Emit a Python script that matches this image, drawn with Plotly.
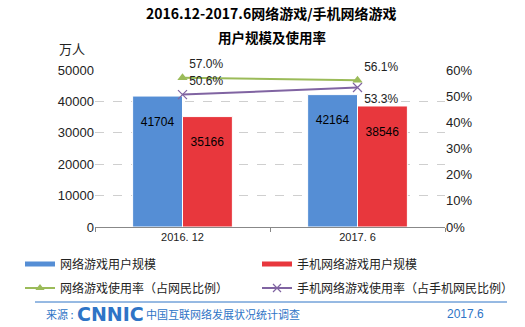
import plotly.graph_objects as go

categories = ["2016. 12", "2017. 6"]
pc_users = [41704, 42164]
mobile_users = [35166, 38546]
pc_rate = [57.0, 56.1]
mobile_rate = [50.6, 53.3]
y_ticks = [0, 10000, 20000, 30000, 40000, 50000]
y2_ticks = [0, 10, 20, 30, 40, 50, 60]

FONT = "Liberation Sans, Arial, Noto Sans CJK SC, sans-serif"
CJK = "Noto Sans CJK SC, Liberation Sans, sans-serif"
BLUE_BAR = "#558ED5"
RED_BAR = "#E8373D"
GREEN = "#9BBB59"
PURPLE = "#8064A2"

fig = go.Figure()
fig.add_trace(go.Bar(
    x=categories, y=pc_users, name="网络游戏用户规模", showlegend=False,
    marker=dict(color=BLUE_BAR, line=dict(color="white", width=1)),
    text=[str(v) for v in pc_users], texttemplate="&nbsp;<br>%{text}", textposition="inside",
    insidetextanchor="end", textangle=0,
    textfont=dict(color="black", size=12, family=FONT),
))
fig.add_trace(go.Bar(
    x=categories, y=mobile_users, name="手机网络游戏用户规模", showlegend=False,
    marker=dict(color=RED_BAR, line=dict(color="white", width=1)),
    text=[str(v) for v in mobile_users], texttemplate="&nbsp;<br>%{text}", textposition="inside",
    insidetextanchor="end", textangle=0,
    textfont=dict(color="black", size=12, family=FONT),
))
fig.add_trace(go.Scatter(
    x=categories, y=pc_rate, name="网络游戏使用率（占网民比例）", showlegend=False,
    yaxis="y2", mode="lines+markers+text", cliponaxis=False,
    line=dict(color=GREEN, width=2),
    marker=dict(symbol="triangle-up", size=9, color=GREEN),
    text=[f"{v:.1f}%" for v in pc_rate], textposition="top right",
    textfont=dict(color="#222", size=12, family=FONT),
))
fig.add_trace(go.Scatter(
    x=categories, y=mobile_rate, name="手机网络游戏使用率（占手机网民比例）", showlegend=False,
    yaxis="y2", mode="lines+markers+text", cliponaxis=False,
    line=dict(color=PURPLE, width=2),
    marker=dict(symbol="x-thin", size=9, color=PURPLE, line=dict(color=PURPLE, width=1.2)),
    text=[f"{v:.1f}%" for v in mobile_rate], textposition=["top right", "bottom right"],
    textfont=dict(color="#222", size=12, family=FONT),
))

# legend-only entries (styled like the reference legend keys), one legend each
fig.add_trace(go.Scatter(x=[None], y=[None], mode="lines", name="网络游戏用户规模",
                         line=dict(color=BLUE_BAR, width=5), legend="legend"))
fig.add_trace(go.Scatter(x=[None], y=[None], mode="lines", name="手机网络游戏用户规模",
                         line=dict(color=RED_BAR, width=5), legend="legend2"))
fig.add_trace(go.Scatter(x=[None], y=[None], mode="lines+markers", name="网络游戏使用率（占网民比例）",
                         line=dict(color=GREEN, width=2),
                         marker=dict(symbol="triangle-up", size=8, color=GREEN), legend="legend3"))
fig.add_trace(go.Scatter(x=[None], y=[None], mode="lines+markers",
                         name="手机网络游戏使用率（占手机网民比例）",
                         line=dict(color=PURPLE, width=2),
                         marker=dict(symbol="x-thin", size=8, color=PURPLE,
                                     line=dict(color=PURPLE, width=1.2)), legend="legend4"))


def leg(x, y):
    return dict(orientation="v", x=(x - 95) / 350, y=(227 - y) / 157,
                xanchor="left", yanchor="middle",
                font=dict(family=CJK, size=12, color="#222"),
                itemwidth=30, bgcolor="rgba(0,0,0,0)", borderwidth=0)


fig.update_layout(
    width=525, height=327,
    margin=dict(l=95, r=80, t=70, b=100, autoexpand=False),
    paper_bgcolor="white", plot_bgcolor="white",
    barmode="group", bargap=0.43, bargroupgap=0,
    font=dict(family=FONT, size=12, color="#222"),
    showlegend=True,
    legend=leg(20, 264), legend2=leg(257, 264),
    legend3=leg(20, 288), legend4=leg(257, 288),
    xaxis=dict(showline=True, linecolor="#888", linewidth=1, ticks="outside",
               tickson="boundaries", ticklen=4, tickcolor="#888",
               tickfont=dict(size=11, family=FONT, color="#222"), showgrid=False),
    yaxis=dict(range=[0, 50000], tickvals=y_ticks, ticktext=[str(v) for v in y_ticks],
               showgrid=True, gridcolor="#cfcfcf", griddash="dash", gridwidth=1,
               zeroline=False, tickfont=dict(size=13, family=FONT, color="#222"),
               ticksuffix="  "),
    yaxis2=dict(range=[0, 60], tickvals=y2_ticks, ticktext=[f"{v}%" for v in y2_ticks],
                overlaying="y", side="right", showgrid=False, zeroline=False,
                tickfont=dict(size=13, family=FONT, color="#222"), tickprefix="    "),
)


def ann(text, x, y, size=12, color="#222", xanchor="center", family=CJK):
    fig.add_annotation(text=text, xref="paper", yref="paper",
                       x=(x - 95) / 350, y=(227 - y) / 157,
                       showarrow=False, xanchor=xanchor, yanchor="middle",
                       font=dict(family=family, size=size, color=color))


ann("<b>2016.12-2017.6网络游戏/手机网络游戏</b>", 271, 13, size=14, color="black")
ann("<b>用户规模及使用率</b>", 272, 37, size=13.5, color="black")
ann("万人", 72, 48, size=13, color="#222")

# footer
BLUE = "#2E74C6"
fig.add_shape(type="line", xref="paper", yref="paper",
              x0=(35 - 95) / 350, x1=(507 - 95) / 350,
              y0=(227 - 302) / 157, y1=(227 - 302) / 157,
              line=dict(color=BLUE, width=1))
ann("来源 :", 44, 314, size=11, color=BLUE, xanchor="left")
ann("<b>CNNIC</b>", 75, 314, size=19, color=BLUE, xanchor="left", family="DejaVu Sans, Liberation Sans")
ann("中国互联网络发展状况统计调查", 144, 314, size=11, color=BLUE, xanchor="left")
ann("2017.6", 445, 314, size=12, color=BLUE, xanchor="left", family=FONT)

fig.write_html("out.html")
